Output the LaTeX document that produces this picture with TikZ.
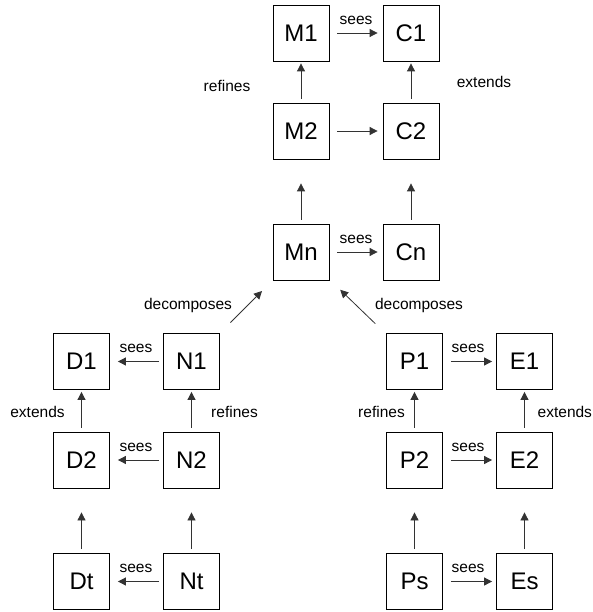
\documentclass[tikz,border=0pt]{standalone}
\usepackage{fontspec}
\setmainfont{Liberation Sans}
\usetikzlibrary{arrows.meta}

\tikzset{
  box/.style={draw,line width=0.8pt,minimum size=56pt,inner sep=0pt,font=\fontsize{24}{28}\selectfont},
  lbl/.style={anchor=base,inner sep=0pt,font=\fontsize{15.5}{18}\selectfont},
  arr/.style={draw=black!80,line width=0.8pt,-{Triangle[length=8pt,width=8pt]}},
}

\begin{document}
\begin{tikzpicture}[x=1pt,y=-1pt]

%	\draw[step=10pt,gray,very thin] (0,0) grid (593,612);
	\useasboundingbox (0,0) rectangle (593,612);

	% top group
	\node[box] (M1) at (301,33) {M1};
	\node[box] (C1) at (411,33) {C1};
	\node[box] (M2) at (301,131) {M2};
	\node[box] (C2) at (411,131) {C2};
	\node[box] (Mn) at (301,252) {Mn};
	\node[box] (Cn) at (411,252) {Cn};

	\draw[arr,shorten <=8pt,shorten >=5pt] (M1) -- (C1);
	\draw[arr,shorten <=8pt,shorten >=5pt] (M2) -- (C2);
	\draw[arr,shorten <=8pt,shorten >=5pt] (Mn) -- (Cn);
	\draw[arr,shorten <=4pt,shorten >=2pt] (M2) -- (M1);
	\draw[arr,shorten <=4pt,shorten >=2pt] (C2) -- (C1);
	\draw[arr,shorten <=4pt,shorten >=24pt] (Mn) -- (M2);
	\draw[arr,shorten <=4pt,shorten >=24pt] (Cn) -- (C2);
	\node[lbl] (s1) at (356,25) {sees};
	\node[lbl] (s2) at (356,243) {sees};
	\node[lbl] (r1) at (227,92) {refines};
	\node[lbl] (e1) at (484,88) {extends};

	% decomposition
	\node[box] (N1) at (191.5,361.5) {N1};
	\node[box] (P1) at (414.5,361.5) {P1};
	\draw[arr,shorten <=15pt,shorten >=15pt] (N1) -- (Mn);
	\draw[arr,shorten <=15pt,shorten >=15pt] (P1) -- (Mn);
	\node[lbl] (d1) at (188,309) {decomposes};
	\node[lbl] (d2) at (419,309) {decomposes};

	% left group
	\node[box] (D1) at (81.5,361.5) {D1};
	\node[box] (D2) at (81.5,460) {D2};
	\node[box] (N2) at (191.5,460) {N2};
	\node[box] (Dt) at (81.5,581.5) {Dt};
	\node[box] (Nt) at (191.5,581.5) {Nt};

	\draw[arr,shorten <=4pt,shorten >=8pt] (N1) -- (D1);
	\draw[arr,shorten <=4pt,shorten >=8pt] (N2) -- (D2);
	\draw[arr,shorten <=4pt,shorten >=8pt] (Nt) -- (Dt);
	\draw[arr,shorten <=4pt,shorten >=2pt] (D2) -- (D1);
	\draw[arr,shorten <=4pt,shorten >=2pt] (N2) -- (N1);
	\draw[arr,shorten <=4pt,shorten >=24pt] (Dt) -- (D2);
	\draw[arr,shorten <=4pt,shorten >=24pt] (Nt) -- (N2);
	\node[lbl] (s3) at (136,352.7) {sees};
	\node[lbl] (s4) at (136,451.7) {sees};
	\node[lbl] (s5) at (136,572.7) {sees};
	\node[lbl] (e2) at (37.5,417) {extends};
	\node[lbl] (r2) at (234.5,417) {refines};

	% right group
	\node[box] (E1) at (524.5,361.5) {E1};
	\node[box] (P2) at (414.5,460) {P2};
	\node[box] (E2) at (524.5,460) {E2};
	\node[box] (Ps) at (414.5,581.5) {Ps};
	\node[box] (Es) at (524.5,581.5) {Es};

	\draw[arr,shorten <=8pt,shorten >=4pt] (P1) -- (E1);
	\draw[arr,shorten <=8pt,shorten >=4pt] (P2) -- (E2);
	\draw[arr,shorten <=8pt,shorten >=4pt] (Ps) -- (Es);
	\draw[arr,shorten <=4pt,shorten >=2pt] (P2) -- (P1);
	\draw[arr,shorten <=4pt,shorten >=2pt] (E2) -- (E1);
	\draw[arr,shorten <=4pt,shorten >=24pt] (Ps) -- (P2);
	\draw[arr,shorten <=4pt,shorten >=24pt] (Es) -- (E2);
	\node[lbl] (s6) at (468,352.7) {sees};
	\node[lbl] (s7) at (468,451.7) {sees};
	\node[lbl] (s8) at (468,572.7) {sees};
	\node[lbl] (r3) at (381.5,417) {refines};
	\node[lbl,anchor=base west] (e3) at (537.5,417) {extends};

\end{tikzpicture}
\end{document}
